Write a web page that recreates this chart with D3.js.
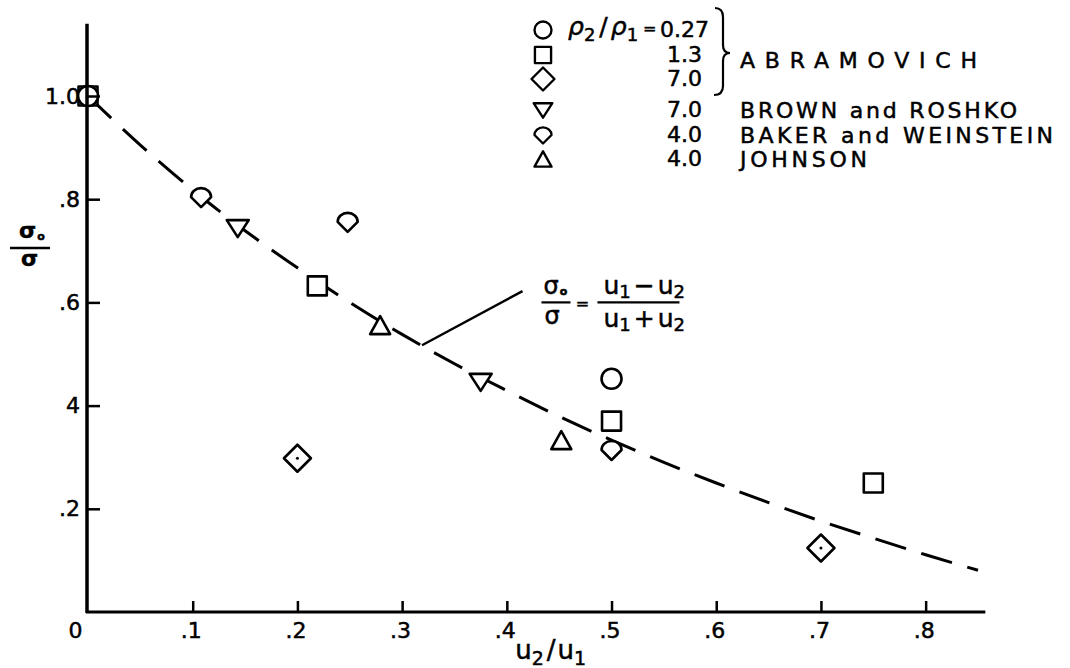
<!DOCTYPE html>
<html>
<head>
<meta charset="utf-8">
<script src="https://cdn.jsdelivr.net/npm/d3@7"></script>
<style>
  body { margin: 0; background: #fff; }
  svg { display: block; }
  text { font-family: "DejaVu Sans", sans-serif; fill: #000; stroke: #000; stroke-width: 0.5px; }
</style>
</head>
<body>
<svg width="1070" height="668"></svg>
<script>
const width = 1070, height = 668;
const svg = d3.select("svg");

// points, [u2/u1, sigma0/sigma]
const abram027 = [[0, 1.0], [0.5, 0.452]];
const abram13 = [[0, 1.0], [0.219, 0.632], [0.5, 0.37], [0.75, 0.25]];
const abram70 = [[0.2, 0.298], [0.7, 0.124]];
const brownRoshko = [[0.143, 0.744], [0.375, 0.446]];
const bakerWeinstein = [[0.108, 0.804], [0.248, 0.756], [0.5, 0.314]];
const johnson = [[0.279, 0.556], [0.452, 0.333]];

// dashed theory curve
const curveX = [0, 0.05, 0.1, 0.15, 0.2, 0.25, 0.3, 0.35, 0.4, 0.45, 0.5, 0.55, 0.6, 0.65, 0.7, 0.75, 0.8, 0.85];
const curveY = [1.0, 0.905, 0.818, 0.739, 0.667, 0.6, 0.538, 0.481, 0.429, 0.379, 0.333, 0.29, 0.25, 0.212, 0.176, 0.143, 0.111, 0.081];

const xTicks = [0, 0.1, 0.2, 0.3, 0.4, 0.5, 0.6, 0.7, 0.8];
const xTickLabels = ["0", ".1", ".2", ".3", ".4", ".5", ".6", ".7", ".8"];
const yTicks = [0.2, 0.4, 0.6, 0.8, 1.0];
const yTickLabels = [".2", "4", ".6", ".8", "1.0"];

const legendRatios = ["0.27", "1.3", "7.0", "7.0", "4.0", "4.0"];
const legendSymbols = ["circle", "square", "diamond", "down", "baker", "up"];
const legendNames = ["", "ABRAMOVICH", "", "BROWN and ROSHKO", "BAKER and WEINSTEIN", "JOHNSON"];

const x = d3.scaleLinear().domain([0, 0.85]).range([88, 978]);
const y = d3.scaleLinear().domain([0, 1]).range([612, 96]);

// marker shapes
function symbolPath(type) {
  switch (type) {
    case "circle": return "M10,0A10,10 0 1 1 -10,0A10,10 0 1 1 10,0Z";
    case "square": return "M-9.5,-9.5H9.5V9.5H-9.5Z";
    case "diamond": return "M0,-13.5L13.5,0L0,13.5L-13.5,0Z";
    case "down": return "M-11,-8L11,-8L0,9Z";
    case "up": return "M-10,9L10,9L0,-9Z";
    case "baker": return "M-10,0A10,9 0 0 1 10,0L0,10Z";
  }
}

function drawMarkers(data, type) {
  const g = svg.append("g");
  g.selectAll("path")
    .data(data)
    .enter()
    .append("path")
    .attr("transform", d => `translate(${x(d[0])},${y(d[1])})`)
    .attr("d", symbolPath(type))
    .attr("fill", "#fff")
    .attr("stroke", "#000")
    .attr("stroke-width", 2.6)
    .attr("stroke-linejoin", "round");
  if (type === "diamond") {
    g.selectAll("circle")
      .data(data)
      .enter()
      .append("circle")
      .attr("cx", d => x(d[0]))
      .attr("cy", d => y(d[1]))
      .attr("r", 1.5)
      .attr("fill", "#000");
  }
}

// === dashed curve ===
const line = d3.line()
  .x(d => x(d[0]))
  .y(d => y(d[1]))
  .curve(d3.curveMonotoneX);

svg.append("path")
  .datum(curveX.map((v, i) => [v, curveY[i]]))
  .attr("d", line)
  .attr("fill", "none")
  .attr("stroke", "#000")
  .attr("stroke-width", 3)
  .attr("stroke-dasharray", "32,16");

// === markers ===
drawMarkers(abram13, "square");
drawMarkers(abram027, "circle");
drawMarkers(abram70, "diamond");
drawMarkers(brownRoshko, "down");
drawMarkers(bakerWeinstein, "baker");
drawMarkers(johnson, "up");

// === axes ===
const xAxis = svg.append("g")
  .attr("transform", `translate(0,${y(0)})`)
  .call(d3.axisBottom(x)
    .tickValues(xTicks)
    .tickFormat((d, i) => xTickLabels[i])
    .tickSizeInner(-11)
    .tickSizeOuter(0)
    .tickPadding(10));
xAxis.select(".domain").remove();
xAxis.selectAll(".tick line").attr("stroke", "#000").attr("stroke-width", 2.5);
xAxis.selectAll(".tick text")
  .attr("font-size", "22px")
  .attr("font-family", "DejaVu Sans, sans-serif")
  .attr("dx", d => d === 0 ? -13 : -2);
xAxis.selectAll(".tick").filter(d => d === 0).select("line").remove();

const yAxis = svg.append("g")
  .attr("transform", `translate(${x(0)},0)`)
  .call(d3.axisLeft(y)
    .tickValues(yTicks)
    .tickFormat((d, i) => yTickLabels[i])
    .tickSizeInner(-12)
    .tickSizeOuter(0)
    .tickPadding(8));
yAxis.select(".domain").remove();
yAxis.selectAll(".tick line").attr("stroke", "#000").attr("stroke-width", 2.5);
yAxis.selectAll(".tick text")
  .attr("font-size", "22px")
  .attr("font-family", "DejaVu Sans, sans-serif");

// axis lines drawn on top
svg.append("line")
  .attr("x1", x(0) - 1).attr("x2", x(0) - 1)
  .attr("y1", y(0) + 1).attr("y2", y(1.14))
  .attr("stroke", "#000").attr("stroke-width", 3.5);
svg.append("line")
  .attr("x1", x(0) - 2).attr("x2", x(0.857))
  .attr("y1", y(0)).attr("y2", y(0))
  .attr("stroke", "#000").attr("stroke-width", 3.2);

// x axis title u2/u1
const xTitle = svg.append("text")
  .attr("x", x(0.44) + 2)
  .attr("y", 659)
  .attr("text-anchor", "middle")
  .attr("font-size", "26px");
xTitle.append("tspan").text("u");
xTitle.append("tspan").attr("dy", 6).attr("font-size", "19px").text("2");
xTitle.append("tspan").attr("dy", -6).attr("dx", 3).text("/");
xTitle.append("tspan").attr("dx", 2).text("u");
xTitle.append("tspan").attr("dy", 6).attr("font-size", "19px").text("1");

// y axis title sigma0 / sigma
svg.append("line")
  .attr("x1", 10).attr("x2", 50)
  .attr("y1", 248).attr("y2", 248)
  .attr("stroke", "#000").attr("stroke-width", 2.5);
const yTitleTop = svg.append("text")
  .attr("x", 19).attr("y", 238)
  .attr("font-size", "22px").attr("font-weight", "bold");
yTitleTop.append("tspan").text("σ");
yTitleTop.append("tspan").attr("dx", 1).attr("dy", 2).attr("font-size", "11px").text("o");
svg.append("text")
  .attr("x", 21).attr("y", 266)
  .attr("font-size", "22px").attr("font-weight", "bold")
  .text("σ");

// === formula annotation with leader line ===
svg.append("line")
  .attr("x1", x(0.319)).attr("y1", y(0.517))
  .attr("x2", x(0.415)).attr("y2", y(0.622))
  .attr("stroke", "#000").attr("stroke-width", 2.5);

const fx = x(0.435), fy = y(0.6);  // anchor of the formula (fraction bar level)
const formula = svg.append("g").attr("transform", `translate(${fx},${fy})`);
const lhs = formula.append("text").attr("font-size", "24px");
lhs.append("tspan").attr("x", 0).attr("y", -8).text("σ");
lhs.append("tspan").attr("dx", 1).attr("dy", 1).attr("font-size", "11px").attr("font-weight", "bold").text("o");
lhs.append("tspan").attr("x", 1).attr("y", 22).text("σ");
formula.append("line").attr("x1", -2).attr("x2", 27)
  .attr("stroke", "#000").attr("stroke-width", 2.2);
formula.append("text").attr("x", 39).attr("y", 7).attr("text-anchor", "middle")
  .attr("font-size", "16px").text("=");
formula.append("line").attr("x1", 54).attr("x2", 136)
  .attr("stroke", "#000").attr("stroke-width", 2.2);

function uExpr(yPos, op, sub1, sub2) {
  const t = formula.append("text")
    .attr("x", 60).attr("y", yPos)
    .attr("font-size", "25px");
  t.append("tspan").text("u");
  t.append("tspan").attr("dy", 4).attr("font-size", "18px").text(sub1);
  t.append("tspan").attr("dy", -4).attr("dx", 3).text(op);
  t.append("tspan").attr("dx", 3).text("u");
  t.append("tspan").attr("dy", 4).attr("font-size", "18px").text(sub2);
}
uExpr(-8, "−", "1", "2");
uExpr(25, "+", "1", "2");

// === legend ===
const legendRowsY = [30, 55, 79, 110, 135, 159];
const nameWidths = { "ABRAMOVICH": 237, "BROWN and ROSHKO": 277, "BAKER and WEINSTEIN": 313, "JOHNSON": 127 };
const legend = svg.append("g");
legendSymbols.forEach((type, i) => {
  const cy = legendRowsY[i];
  legend.append("path")
    .attr("transform", `translate(543,${cy}) scale(0.85)`)
    .attr("d", symbolPath(type))
    .attr("fill", "#fff")
    .attr("stroke", "#000")
    .attr("stroke-width", 2.8)
    .attr("stroke-linejoin", "round");
  legend.append("text")
    .attr("x", i === 0 ? 660 : 667)
    .attr("y", cy + 7)
    .attr("font-size", "22px")
    .text(legendRatios[i]);
  if (legendNames[i]) {
    legend.append("text")
      .attr("x", 740)
      .attr("y", i === 1 ? 68 : cy + 8)
      .attr("font-size", "22px")
      .attr("textLength", nameWidths[legendNames[i]])
      .attr("lengthAdjust", "spacing")
      .text(legendNames[i]);
  }
});

// rho2 / rho1 =
const rho = legend.append("text")
  .attr("x", 568).attr("y", 35)
  .attr("font-size", "25px")
  .attr("font-style", "italic");
rho.append("tspan").text("ρ");
rho.append("tspan").attr("dy", 6).attr("font-size", "18px").attr("font-style", "normal").text("2");
rho.append("tspan").attr("dy", -6).attr("dx", 4).attr("font-style", "normal").text("/");
rho.append("tspan").attr("dx", 3).text("ρ");
rho.append("tspan").attr("dy", 6).attr("font-size", "18px").attr("font-style", "normal").text("1");
legend.append("text")
  .attr("x", 643).attr("y", 34)
  .attr("font-size", "16px")
  .text("=");

// brace grouping the three Abramovich rows
legend.append("path")
  .attr("d", "M715,8 Q723,8 723,17 L723,45 Q723,53 730,53 Q723,53 723,61 L723,86 Q723,95 714,95")
  .attr("fill", "none")
  .attr("stroke", "#000")
  .attr("stroke-width", 2.2);
</script>
</body>
</html>
